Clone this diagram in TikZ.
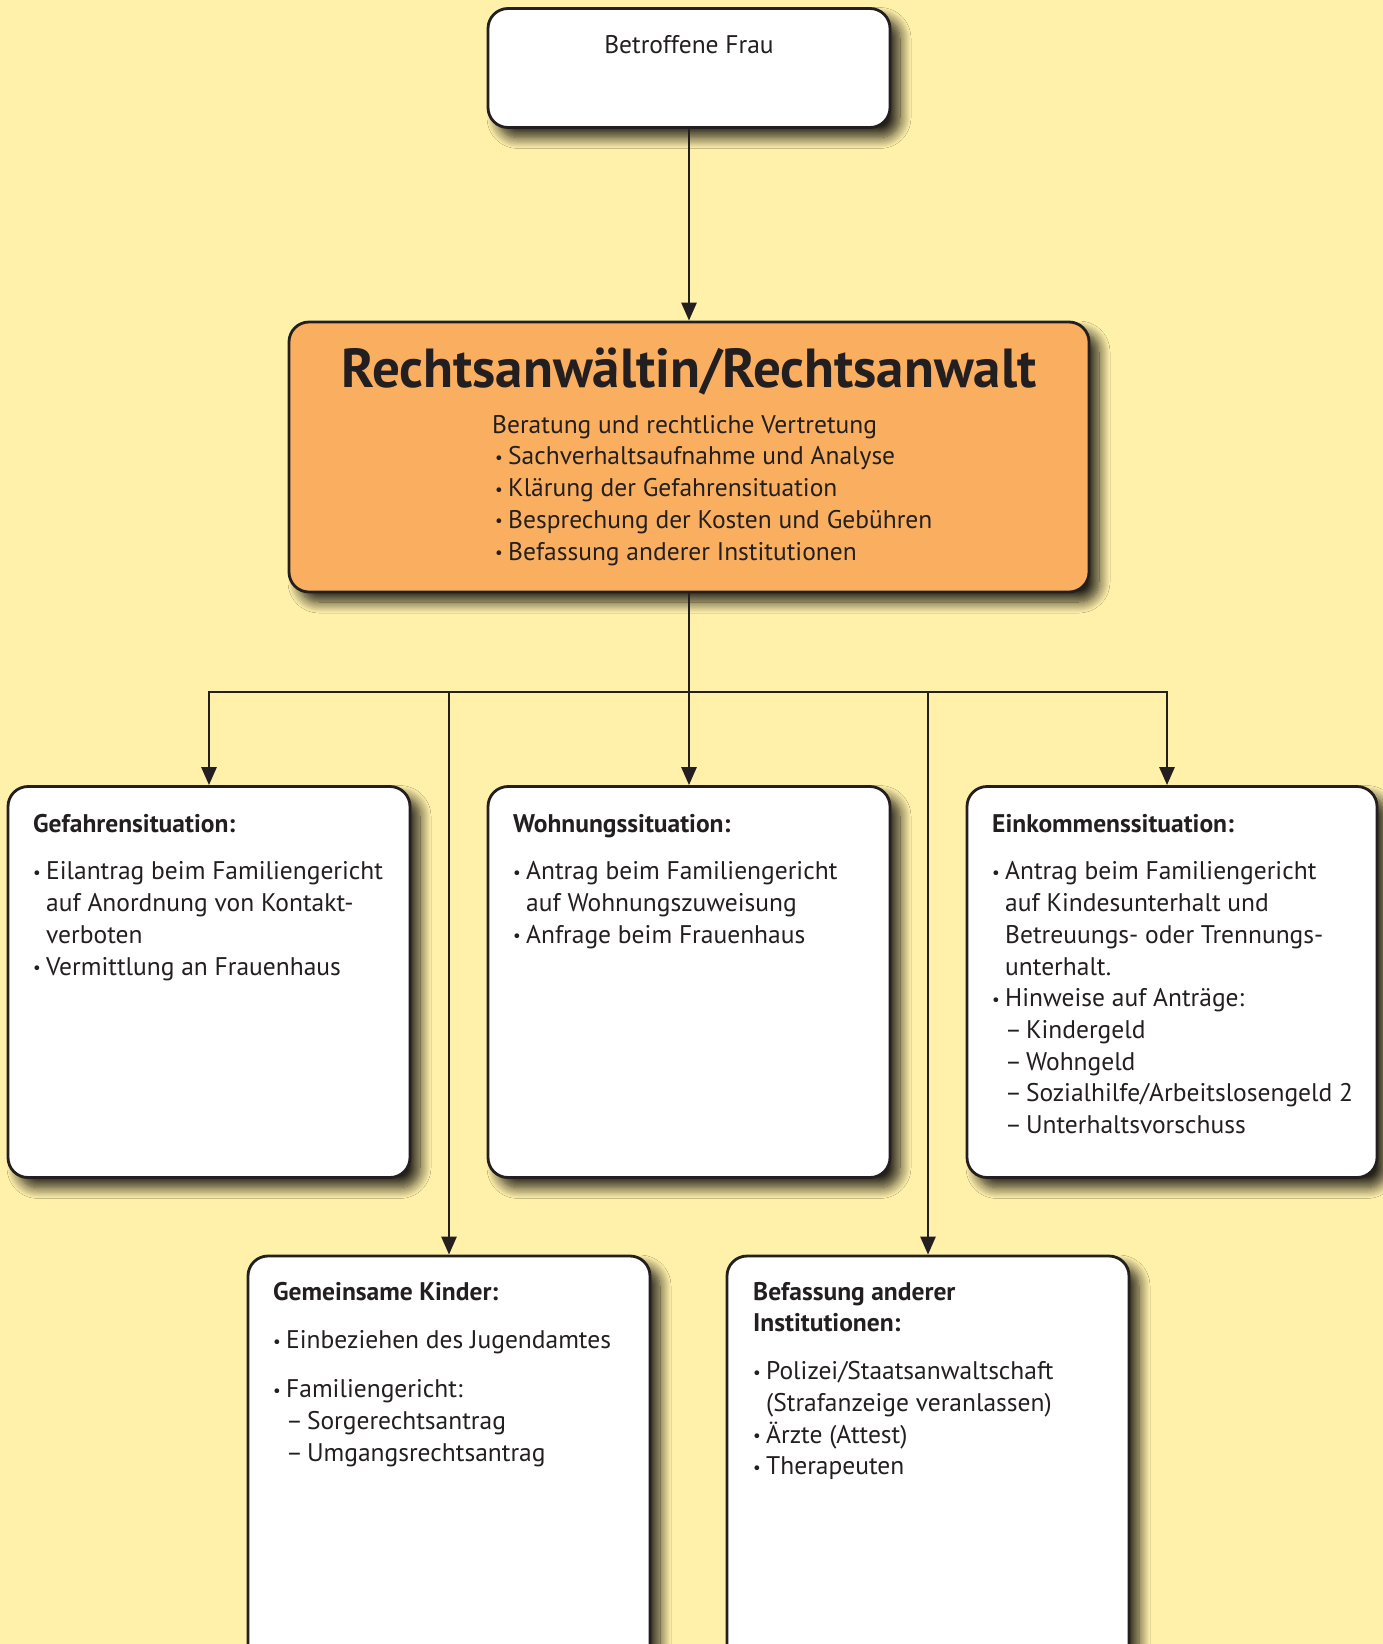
\documentclass[tikz,border=0pt]{standalone}
\usepackage{fontspec}
\setmainfont{PT Sans}
\usetikzlibrary{arrows.meta,shadows.blur}

\definecolor{paper}{RGB}{255,240,170}
\definecolor{lawyer}{RGB}{249,175,95}
\definecolor{ink}{RGB}{35,31,32}

% list helpers: small bullet with hanging indent, dash items
\newcommand\bpt{\makebox[13pt][l]{\raisebox{1.5pt}{\fontsize{17}{17}\selectfont•}}}
\newcommand\hangin{\hspace*{13pt}}
\newcommand\dsh{–\hspace{4pt}}
\newcommand\topstrut{\rule{0pt}{20pt}}

\begin{document}
\begin{tikzpicture}[x=1pt,y=-1pt,
  font=\fontsize{25.5}{31.7}\selectfont, text=ink,
  card/.style={draw=ink, line width=2.8pt, rounded corners=20pt, fill=white,
    inner sep=0pt, minimum width=402pt,
    blur shadow={shadow xshift=10pt, shadow yshift=-10pt,
      shadow blur radius=11pt, shadow blur steps=12, shadow opacity=85}},
  txt/.style={anchor=north west, inner sep=0pt, align=left},
  link/.style={draw=ink, line width=2.7pt},
  arr/.style={link, -{Triangle[width=15pt,length=18pt]}}
]
\clip (0,0) rectangle (1383,1644);
\fill[paper] (0,0) rectangle (1383,1644);

% top: the woman concerned
\node[card, minimum height=119pt] (frau) at (689,68) {};
\node[anchor=base, inner sep=0pt] (frautxt) at (689,53) {Betroffene Frau};

% lawyer
\node[card, fill=lawyer, minimum width=800pt, minimum height=270pt] (anwalt) at (689,457) {};
\node[anchor=base, inner sep=0pt, font=\fontsize{55}{60}\selectfont\bfseries] (anwalttitle) at (689,387)
  {Rechtsanwältin/Rechtsanwalt};
\node[txt] (anwalttxt) at (492,413) {\topstrut Beratung und rechtliche Vertretung\\
  \hspace*{3pt}\bpt Sachverhaltsaufnahme und Analyse\\
  \hspace*{3pt}\bpt Klärung der Gefahrensituation\\
  \hspace*{3pt}\bpt Besprechung der Kosten und Gebühren\\
  \hspace*{3pt}\bpt Befassung anderer Institutionen};

% first row
\node[card, minimum height=391pt] (gefahr) at (209,982) {};
\node[card, minimum height=391pt] (wohnung) at (689,982) {};
\node[card, minimum height=391pt, minimum width=410pt] (einkommen) at (1172,982) {};

\node[txt] (gefahrtxt) at (33,812) {\topstrut\textbf{Gefahrensituation:}\\[16pt]
  \bpt Eilantrag beim Familiengericht\\
  \hangin auf Anordnung von Kontakt-\\
  \hangin verboten\\
  \bpt Vermittlung an Frauenhaus};

\node[txt] (wohnungtxt) at (513,812) {\topstrut\textbf{Wohnungssituation:}\\[16pt]
  \bpt Antrag beim Familiengericht\\
  \hangin auf Wohnungszuweisung\\
  \bpt Anfrage beim Frauenhaus};

\node[txt] (einkommentxt) at (992,812) {\topstrut\textbf{Einkommenssituation:}\\[16pt]
  \bpt Antrag beim Familiengericht\\
  \hangin auf Kindesunterhalt und\\
  \hangin Betreuungs- oder Trennungs-\\
  \hangin unterhalt.\\
  \bpt Hinweise auf Anträge:\\
  \hangin\dsh Kindergeld\\
  \hangin\dsh Wohngeld\\
  \hangin\dsh Sozialhilfe/Arbeitslosengeld 2\\
  \hangin\dsh Unterhaltsvorschuss};

% second row
\node[card, minimum height=444pt] (kinder) at (449,1478) {};
\node[card, minimum height=444pt] (inst) at (928,1478) {};

\node[txt] (kindertxt) at (273,1280) {\topstrut\textbf{Gemeinsame Kinder:}\\[17pt]
  \bpt Einbeziehen des Jugendamtes\\[17pt]
  \bpt Familiengericht:\\
  \hangin\dsh Sorgerechtsantrag\\
  \hangin\dsh Umgangsrechtsantrag};

\node[txt] (insttxt) at (753,1280) {\topstrut\textbf{Befassung anderer}\\
  \textbf{Institutionen:}\\[16pt]
  \bpt Polizei/Staatsanwaltschaft\\
  \hangin (Strafanzeige veranlassen)\\
  \bpt Ärzte (Attest)\\
  \bpt Therapeuten};

% connectors
\draw[arr] (frau) -- (anwalt);
\coordinate (bus) at (689,692);
\draw[link] (anwalt.south) -- (bus);
\draw[arr] (bus) -| (gefahr.north);
\draw[arr] (bus) -- (wohnung.north);
\draw[arr] (bus) -| ([xshift=-5pt]einkommen.north);
\draw[arr] (bus) -| (kinder.north);
\draw[arr] (bus) -| (inst.north);
\end{tikzpicture}
\end{document}
